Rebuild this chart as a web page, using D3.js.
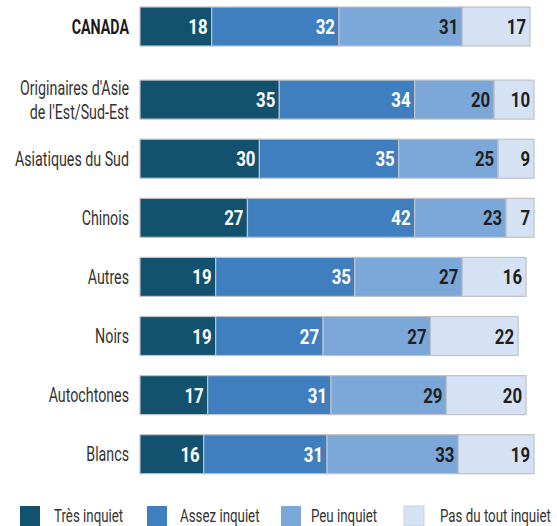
<!DOCTYPE html>
<html>
<head>
<meta charset="utf-8">
<script src="https://cdn.jsdelivr.net/npm/d3@7"></script>
<style>
  html, body { margin: 0; padding: 0; background: #fff; }
  svg { display: block; font-family: "Roboto", "Liberation Sans", sans-serif; }
</style>
</head>
<body>
<svg id="chart" width="557" height="526"></svg>
<script>
// Groups shown, top to bottom (first entry is the national total)
const groups = ["CANADA", "Originaires d'Asie\nde l'Est/Sud-Est", "Asiatiques du Sud", "Chinois", "Autres", "Noirs", "Autochtones", "Blancs"];
const series = ["Très inquiet", "Assez inquiet", "Peu inquiet", "Pas du tout inquiet"];
// Percentages per group, in series order
const tresInquiet   = [18, 35, 30, 27, 19, 19, 17, 16];
const assezInquiet  = [32, 34, 35, 42, 35, 27, 31, 31];
const peuInquiet    = [31, 20, 25, 23, 27, 27, 29, 33];
const pasDuTout     = [17, 10, 9, 7, 16, 22, 20, 19];
const colors = ["#13526e", "#3f7fc0", "#7ba7d9", "#d5e2f3"];
const labelColors = ["#ffffff", "#ffffff", "#231f20", "#231f20"];

const rows = groups.map((g, i) => ({
  group: g,
  "Très inquiet": tresInquiet[i],
  "Assez inquiet": assezInquiet[i],
  "Peu inquiet": peuInquiet[i],
  "Pas du tout inquiet": pasDuTout[i]
}));

const svg = d3.select("#chart");

// Condensed look: horizontally squeeze text around its anchor point
const place = (px, py, sx) => `translate(${px},${py}) scale(${sx},1)`;

const x = d3.scaleLinear().domain([0, 100]).range([140, 538]);

// Rows after the total are set apart by an extra gap
const step = 59.1, barH = 39, extraGap = 14, firstCenter = 26.5;
const y = d3.scaleLinear().domain([0, 1]).range([firstCenter, firstCenter + step]);
const rowCenter = i => y(i) + (i > 0 ? extraGap : 0);

const stacked = d3.stack().keys(series)(rows);

const layers = svg.append("g").selectAll("g")
  .data(stacked)
  .join("g")
  .attr("fill", (d, k) => colors[k]);

layers.selectAll("rect")
  .data(d => d.map((p, i) => ({ p, i })))
  .join("rect")
  .attr("x", d => x(d.p[0]))
  .attr("y", d => rowCenter(d.i) - barH / 2)
  .attr("width", d => x(d.p[1]) - x(d.p[0]))
  .attr("height", barH)
  .attr("stroke", "#bfc3c7")
  .attr("stroke-width", 1.2);

// Value labels, right-aligned inside each segment
stacked.forEach((layer, k) => {
  svg.append("g").selectAll("text")
    .data(layer.map((p, i) => ({ p, i, v: p[1] - p[0] })))
    .join("text")
    .attr("transform", d => place(x(d.p[1]) - 4, rowCenter(d.i), 0.8))
    .attr("dy", "0.36em")
    .attr("text-anchor", "end")
    .attr("font-size", 21)
    .attr("font-weight", "bold")
    .attr("fill", labelColors[k])
    .text(d => d.v);
});

// Category labels
const cat = svg.append("g").selectAll("text")
  .data(groups.map((g, i) => ({ g, i })))
  .join("text")
  .attr("text-anchor", "end")
  .attr("font-size", 19.5)
  .attr("fill", d => d.i === 0 ? "#1a1a1a" : "#333")
  .attr("font-weight", d => d.i === 0 ? "bold" : "normal")
  .attr("transform", d => place(129, rowCenter(d.i), 0.73));

cat.each(function(d) {
  const lines = d.g.split("\n");
  const t = d3.select(this);
  lines.forEach((line, j) => {
    t.append("tspan")
      .attr("x", 0)
      .attr("y", (j - (lines.length - 1) / 2) * 24)
      .attr("dy", "0.36em")
      .text(line);
  });
});

// Legend along the bottom edge
const legendRectX = [20, 147, 281, 404];
const legendTextX = [54, 180, 311, 440];
const legend = svg.append("g").selectAll("g")
  .data(series.map((s, k) => ({ s, k })))
  .join("g");

legend.append("rect")
  .attr("x", d => legendRectX[d.k])
  .attr("y", 506)
  .attr("width", 20)
  .attr("height", 20)
  .attr("fill", d => colors[d.k])
  .attr("stroke", d => d.k === 3 ? "#c9d3de" : "none")
  .attr("stroke-width", 1);

legend.append("text")
  .attr("transform", d => place(legendTextX[d.k], 521.5, 0.72))
  .attr("font-size", 18.5)
  .attr("fill", "#333")
  .text(d => d.s);
</script>
</body>
</html>
